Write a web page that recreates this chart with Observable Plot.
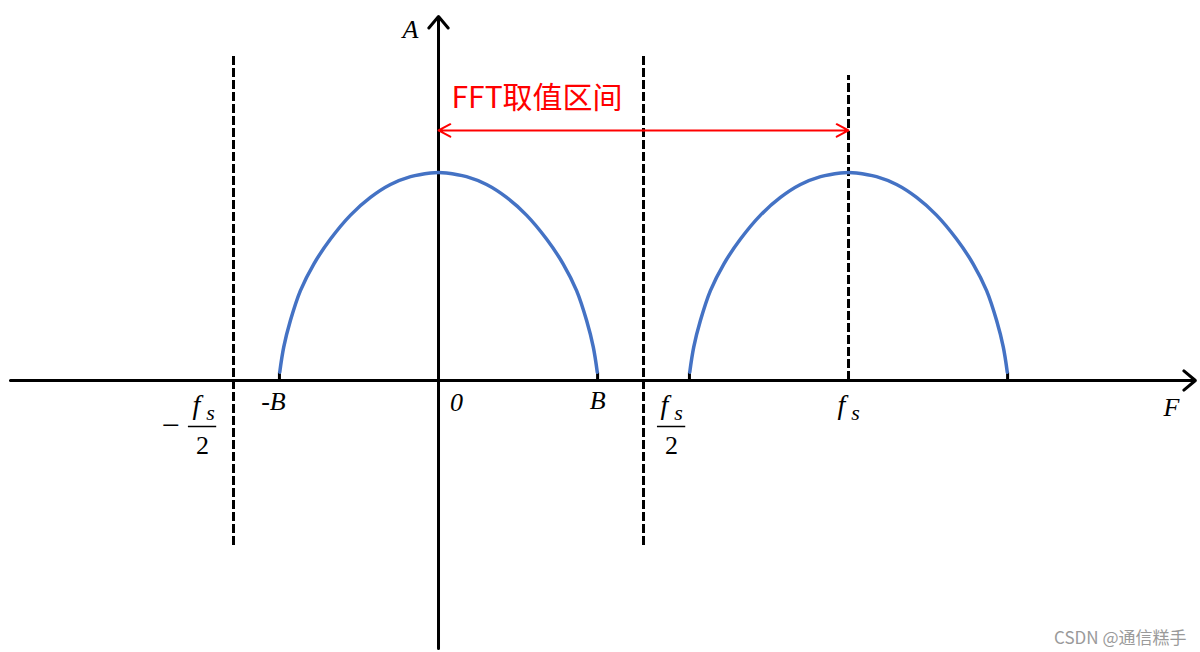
<!DOCTYPE html>
<html>
<head>
<meta charset="utf-8">
<script src="https://cdn.jsdelivr.net/npm/d3@7"></script>
<script src="https://cdn.jsdelivr.net/npm/@observablehq/plot@0.6"></script>
<style>
  html, body { margin: 0; padding: 0; background: #fff; }
  #chart svg { display: block; }
</style>
</head>
<body>
<div id="chart"></div>
<script>
// ---- data (frequency in units of fs, amplitude normalised to hump peak) ----
const fs = 1;
const B = 0.388;
const humpCenters = [0, fs];
// one hump shape: offset (in units of B) and amplitude
const shapeU = [-0.998, -0.973, -0.931, -0.868, -0.784, -0.679, -0.553, -0.428, -0.302, -0.176, -0.05, 0,
                0.05, 0.176, 0.302, 0.428, 0.553, 0.679, 0.784, 0.868, 0.931, 0.973, 0.998];
const shapeA = [0.04, 0.16, 0.288, 0.432, 0.56, 0.68, 0.795, 0.88, 0.942, 0.98, 0.998, 1.0,
                0.998, 0.98, 0.942, 0.88, 0.795, 0.68, 0.56, 0.432, 0.288, 0.16, 0.04];
const dashedX = [-fs / 2, fs / 2, fs];
const dashedTop = [1.5625, 1.5625, 1.466];
const dashedBottom = [-0.793, -0.793, 0];
const xAxisExtent = [-1.044, 1.846];
const yAxisExtent = [-1.288, 1.75];
const fftRangeY = 1.202;
const fftLabelY = 1.356;
const fftLabel = "FFT取值区间";
const edgeTicks = [-B, B, fs - B, fs + B];
const watermark = "CSDN @通信糕手";

const humps = humpCenters.flatMap((c, k) =>
  shapeU.map((u, i) => ({hump: k, x: c + u * B, a: shapeA[i]})));
const dashed = dashedX.map((x, i) => ({x, y1: dashedBottom[i], y2: dashedTop[i]}));

const mathFont = "Liberation Serif";
const it = {fontFamily: mathFont, fontStyle: "italic", fill: "black"};

const chart = Plot.plot({
  width: 1200,
  height: 652,
  margin: 0,
  x: {domain: [-1.0683, 1.8585], axis: null},
  y: {domain: [-1.3077, 1.8269], axis: null},
  style: {background: "white", overflow: "visible"},
  marks: [
    // dashed vertical lines
    Plot.ruleX(dashed, {x: "x", y1: "y1", y2: "y2", stroke: "black", strokeWidth: 3, strokeDasharray: "9,3"}),
    // axes with arrow heads
    Plot.arrow([0], {x1: xAxisExtent[0], x2: xAxisExtent[1], y1: 0, y2: 0, stroke: "black", strokeWidth: 3, headLength: 7.5, headAngle: 80}),
    Plot.arrow([0], {x1: 0, x2: 0, y1: yAxisExtent[0], y2: yAxisExtent[1], stroke: "black", strokeWidth: 3, headLength: 7.5, headAngle: 80}),
    // small ticks at hump edges
    Plot.ruleX(edgeTicks, {x: d => d, y1: 0, y2: 0.04, stroke: "black", strokeWidth: 3}),
    // spectrum humps
    Plot.line(humps, {x: "x", y: "a", z: "hump", curve: "catmull-rom", stroke: "#4472C4", strokeWidth: 3.5}),
    // FFT range double arrow
    Plot.arrow([0], {x1: fs / 2, x2: 0, y1: fftRangeY, y2: fftRangeY, stroke: "red", strokeWidth: 2, headLength: 10, headAngle: 56}),
    Plot.arrow([0], {x1: fs / 2, x2: fs, y1: fftRangeY, y2: fftRangeY, stroke: "red", strokeWidth: 2, headLength: 10, headAngle: 56}),
    Plot.text([fftLabel], {x: 0, y: fftLabelY, text: d => d, textAnchor: "start", dx: 13, fill: "red", fontSize: 30, fontFamily: "Noto Sans CJK SC"}),
    // axis names
    Plot.text(["A"], {x: 0, y: yAxisExtent[1], text: d => d, dx: -28, dy: 13, fontSize: 26, ...it}),
    Plot.text(["F"], {x: xAxisExtent[1], y: 0, text: d => d, dx: -24, dy: 27, fontSize: 26, ...it}),
    // tick labels
    Plot.text(["-B"], {x: -B, y: 0, text: d => d, dx: -6, dy: 21, fontSize: 26, ...it}),
    Plot.text(["0"], {x: 0, y: 0, text: d => d, dx: 18, dy: 22, fontSize: 26, ...it}),
    Plot.text(["B"], {x: B, y: 0, text: d => d, dx: 0, dy: 20, fontSize: 26, ...it}),
    // fs
    Plot.text(["f"], {x: fs, y: 0, text: d => d, dx: -7, dy: 25, fontSize: 28, ...it}),
    Plot.text(["s"], {x: fs, y: 0, text: d => d, dx: 7, dy: 32, fontSize: 22, ...it}),
    // fs/2
    Plot.text(["f"], {x: fs / 2, y: 0, text: d => d, dx: 21, dy: 25, fontSize: 28, ...it}),
    Plot.text(["s"], {x: fs / 2, y: 0, text: d => d, dx: 35, dy: 32, fontSize: 22, ...it}),
    Plot.ruleY([0], {x1: 0.534, x2: 0.603, dy: 46, stroke: "black", strokeWidth: 1.5}),
    Plot.text(["2"], {x: fs / 2, y: 0, text: d => d, dx: 28, dy: 65, fontSize: 26, fontFamily: mathFont, fill: "black"}),
    // -fs/2
    Plot.text(["\u2212"], {x: -fs / 2, y: 0, text: d => d, dx: -63, dy: 45, fontSize: 32, fontFamily: mathFont, fill: "black"}),
    Plot.text(["f"], {x: -fs / 2, y: 0, text: d => d, dx: -37, dy: 25, fontSize: 28, ...it}),
    Plot.text(["s"], {x: -fs / 2, y: 0, text: d => d, dx: -23, dy: 32, fontSize: 22, ...it}),
    Plot.ruleY([0], {x1: -0.61, x2: -0.541, dy: 46, stroke: "black", strokeWidth: 1.5}),
    Plot.text(["2"], {x: -fs / 2, y: 0, text: d => d, dx: -31, dy: 65, fontSize: 26, fontFamily: mathFont, fill: "black"}),
    // watermark
    Plot.text([watermark], {frameAnchor: "bottom-right", text: d => d, dx: -14, dy: -9, fill: "#9a9a9a", fontSize: 17, fontFamily: "Noto Sans CJK SC"})
  ]
});
document.getElementById("chart").appendChild(chart);
</script>
</body>
</html>
